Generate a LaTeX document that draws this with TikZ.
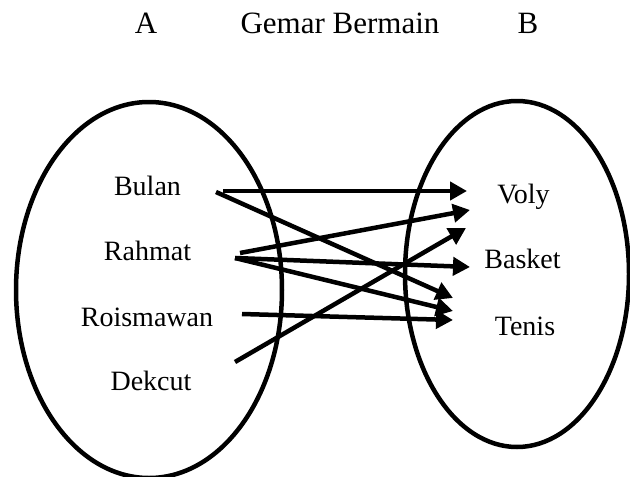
\documentclass[tikz,border=0pt]{standalone}
\usepackage{fontspec}
\setmainfont{Liberation Serif}
\usetikzlibrary{arrows.meta}
\begin{document}
\begin{tikzpicture}[x=1pt,y=-1pt,
  lbl/.style={anchor=base,inner sep=0pt,font=\fontsize{28}{30}\selectfont},
  ttl/.style={anchor=base,inner sep=0pt,font=\fontsize{31}{33}\selectfont},
  setring/.style={draw=black,line width=4.5pt},
  maparrow/.style={line width=4.5pt,-{Triangle[length=17pt,width=18pt]}}]
\useasboundingbox (0,0) rectangle (630,477);
\clip (0,0) rectangle (630,477);
% titles
\node[ttl] (tA) at (146,33) {A};
\node[ttl] (tG) at (340,33) {Gemar Bermain};
\node[ttl] (tB) at (528,33) {B};
% sets
\draw[setring] (149,290) ellipse [x radius=133, y radius=188];
\draw[setring] (517,274) ellipse [x radius=112, y radius=173];
% domain
\node[lbl] (bulan) at (147.5,195) {Bulan};
\node[lbl] (rahmat) at (147.5,260) {Rahmat};
\node[lbl] (rois) at (147,326) {Roismawan};
\node[lbl] (dekcut) at (151,390) {Dekcut};
% codomain
\node[lbl] (voly) at (523.5,203) {Voly};
\node[lbl] (basket) at (522.5,268) {Basket};
\node[lbl] (tenis) at (525,335) {Tenis};
% arrow ends
\coordinate (b1) at (223,191);
\coordinate (b2) at (216,192);
\coordinate (r1) at (240,253);
\coordinate (r2) at (235,258);
\coordinate (s1) at (242,314);
\coordinate (d1) at (235,362);
\coordinate (v1) at (467,191);
\coordinate (v2) at (470,210);
\coordinate (v3) at (466,228);
\coordinate (k1) at (470,267);
\coordinate (t1) at (453,298);
\coordinate (t2) at (453,311);
\coordinate (t3) at (453,320);
\draw[maparrow] (b1) -- (v1);
\draw[maparrow] (b2) -- (t1);
\draw[maparrow] (r1) -- (v2);
\draw[maparrow] (r2) -- (k1);
\draw[maparrow] (r2) -- (t2);
\draw[maparrow] (s1) -- (t3);
\draw[maparrow] (d1) -- (v3);
\end{tikzpicture}
\end{document}
